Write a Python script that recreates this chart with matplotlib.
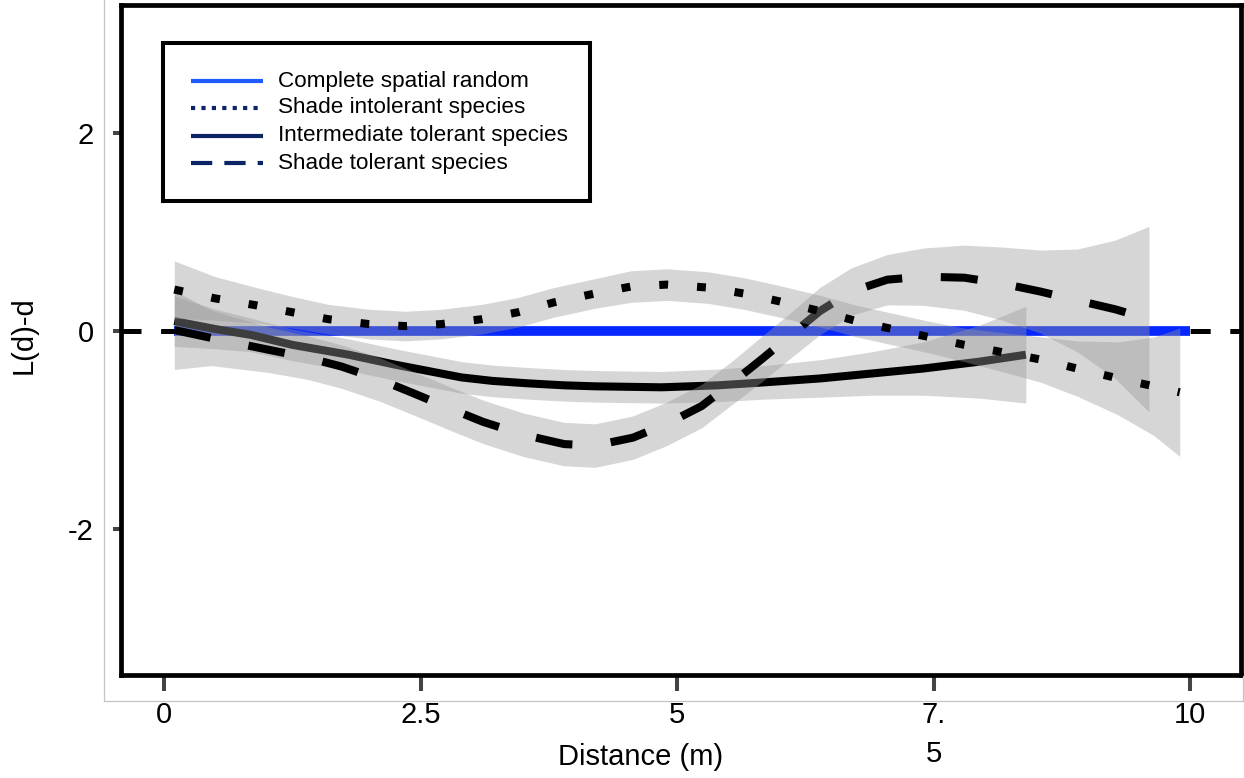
import numpy as np
import matplotlib
matplotlib.use("Agg")
import matplotlib.pyplot as plt
from matplotlib.lines import Line2D

plt.rcParams['font.family'] = ['Liberation Sans', 'DejaVu Sans']

# ---------------- data ----------------
# Complete spatial random reference
csr_x = [0.1, 10.0]
csr_y = [0.0, 0.0]

# Intermediate tolerant species (solid)
int_x = [0.10, 0.50, 0.85, 1.25, 1.80, 2.25, 2.60, 2.90, 3.20, 3.55, 3.90, 4.20, 4.85, 5.40, 5.85, 6.40, 6.90, 7.40, 7.95, 8.40]
int_y = [0.10, 0.02, -0.04, -0.14, -0.24, -0.34, -0.41, -0.47, -0.505, -0.53, -0.55, -0.56, -0.57, -0.55, -0.52, -0.48, -0.43, -0.38, -0.31, -0.24]
int_se = [0.255, 0.20, 0.17, 0.16, 0.16, 0.16, 0.16, 0.16, 0.16, 0.16, 0.16, 0.16, 0.16, 0.165, 0.17, 0.19, 0.22, 0.27, 0.37, 0.49]

# Shade tolerant species (dashed)
tol_x = [0.10, 0.46, 1.02, 1.40, 1.73, 2.10, 2.43, 2.80, 3.11, 3.50, 3.90, 4.20, 4.57, 4.90, 5.24, 5.53, 5.82, 6.10, 6.39, 6.70, 7.05, 7.40, 7.80, 8.17, 8.54, 8.90, 9.27, 9.60]
tol_y = [0.01, -0.07, -0.19, -0.27, -0.36, -0.49, -0.63, -0.79, -0.92, -1.05, -1.145, -1.16, -1.08, -0.94, -0.76, -0.53, -0.29, -0.05, 0.20, 0.40, 0.52, 0.55, 0.54, 0.48, 0.40, 0.31, 0.22, 0.12]
tol_se = [0.40, 0.28, 0.23, 0.22, 0.22, 0.22, 0.22, 0.22, 0.22, 0.22, 0.22, 0.22, 0.22, 0.22, 0.22, 0.22, 0.23, 0.23, 0.24, 0.24, 0.255, 0.29, 0.33, 0.37, 0.42, 0.52, 0.70, 0.94]

# Shade intolerant species (dotted)
itl_x = [0.10, 0.50, 0.90, 1.25, 1.60, 2.00, 2.35, 2.70, 3.10, 3.45, 3.80, 4.20, 4.55, 4.90, 5.30, 5.65, 6.00, 6.40, 6.75, 7.10, 7.45, 7.80, 8.20, 8.55, 8.90, 9.30, 9.65, 9.90]
itl_y = [0.42, 0.33, 0.26, 0.19, 0.12, 0.07, 0.05, 0.07, 0.12, 0.19, 0.29, 0.38, 0.45, 0.47, 0.44, 0.38, 0.30, 0.20, 0.10, 0.02, -0.06, -0.14, -0.22, -0.29, -0.38, -0.48, -0.56, -0.62]
itl_se = [0.29, 0.22, 0.18, 0.16, 0.15, 0.15, 0.15, 0.15, 0.15, 0.15, 0.15, 0.15, 0.16, 0.16, 0.16, 0.16, 0.16, 0.16, 0.16, 0.16, 0.16, 0.17, 0.20, 0.23, 0.28, 0.37, 0.50, 0.65]

x_ticks = [0, 2.5, 5, 7.5, 10]
x_ticklabels = ['0', '2.5', '5', '7.\n5', '10']
y_ticks = [-2, 0, 2]
y_ticklabels = ['-2', '0', '2']

legend_labels = ['Complete spatial random', 'Shade intolerant species',
                 'Intermediate tolerant species', 'Shade tolerant species']

# ---------------- figure ----------------
W, H = 1244, 778
fig = plt.figure(figsize=(W / 100, H / 100), dpi=100)


def fx(px):
    return px / W


def fy(py):
    return 1 - py / H


L, R, T, B = 120.5, 1241.0, 5.3, 674.5
ax = fig.add_axes([fx(L), fy(B), (R - L) / W, (B - T) / H])
ax.set_xlim(-0.424, 10.497)
ax.set_ylim(-3.478, 3.298)

# reference dashed line and CSR line
ax.axhline(0, color='black', lw=3.6, ls=(0, (4, 3.92)), dash_capstyle='butt', zorder=1.5)
ax.plot(csr_x, csr_y, color='#0628ff', lw=7, solid_capstyle='butt', zorder=2)

series = [
    (int_x, int_y, int_se, '-'),
    (tol_x, tol_y, tol_se, (0, (4.6, 4.8))),
    (itl_x, itl_y, itl_se, (0, (1.1, 3.6))),
]
z = 3
for xs, ys, se, ls in series:
    xs = np.asarray(xs)
    ys = np.asarray(ys)
    se = np.asarray(se)
    ax.fill_between(xs, ys - se, ys + se, color='#999999', alpha=0.4, lw=0, zorder=z)
    ax.plot(xs, ys, color='black', lw=5.8, ls=ls, dash_capstyle='butt',
            solid_capstyle='butt', solid_joinstyle='round', zorder=z + 1)
    z += 2

for s in ax.spines.values():
    s.set_linewidth(3.4)
    s.set_color('black')
    s.set_zorder(20)

ax.set_xticks(x_ticks)
ax.set_xticklabels(x_ticklabels)
ax.set_yticks(y_ticks)
ax.set_yticklabels(y_ticklabels)
ax.tick_params(axis='x', direction='out', length=11.2, width=2.9, color='#444444',
               pad=8.0, labelsize=21, labelcolor='black')
ax.tick_params(axis='y', direction='out', length=6.1, width=2.9, color='#444444',
               pad=13.0, labelsize=21, labelcolor='black')
for lab in ax.get_xticklabels():
    lab.set_linespacing(1.5)

ax.set_xlabel('Distance (m)', fontsize=21, va='center')
ax.xaxis.set_label_coords((640.5 - L) / (R - L), (B - 757) / (B - T))
ax.set_ylabel('L(d)-d', fontsize=21, va='center')
ax.yaxis.set_label_coords((24 - L) / (R - L), (B - 335) / (B - T))

# thin grey panel outline behind the frame
grey = '#c4c4c4'
fig.add_artist(Line2D([fx(104.3), fx(104.3)], [fy(0), fy(701)], color=grey, lw=0.9))
fig.add_artist(Line2D([fx(104.3), fx(1242.5)], [fy(701), fy(701)], color=grey, lw=0.9))
fig.add_artist(Line2D([fx(1242.5), fx(1242.5)], [fy(676), fy(701)], color=grey, lw=0.9))

# ---------------- legend box ----------------
lx0, lx1, ly0, ly1 = 163, 590, 42.5, 200.5
lax = fig.add_axes([fx(lx0), fy(ly1), (lx1 - lx0) / W, (ly1 - ly0) / H])
lax.set_xlim(lx0, lx1)
lax.set_ylim(ly1, ly0)
lax.set_xticks([])
lax.set_yticks([])
lax.set_facecolor('white')
for s in lax.spines.values():
    s.set_linewidth(2.9)
    s.set_color('black')

navy = '#0b2463'
leg_styles = [
    dict(color='#1f5bff', ls='-'),
    dict(color=navy, ls=(0, (1, 1.5))),
    dict(color=navy, ls='-'),
    dict(color=navy, ls=(0, (5.1, 2.9))),
]
row_y = [81, 107.7, 136, 163.3]
for lab, st, yy in zip(legend_labels, leg_styles, row_y):
    lax.plot([191, 263], [yy, yy], lw=3.0, dash_capstyle='butt', solid_capstyle='butt', **st)
    lax.text(278, yy, lab, fontsize=16.2, va='center', ha='left', color='black')

fig.savefig('out.png', dpi=100)
